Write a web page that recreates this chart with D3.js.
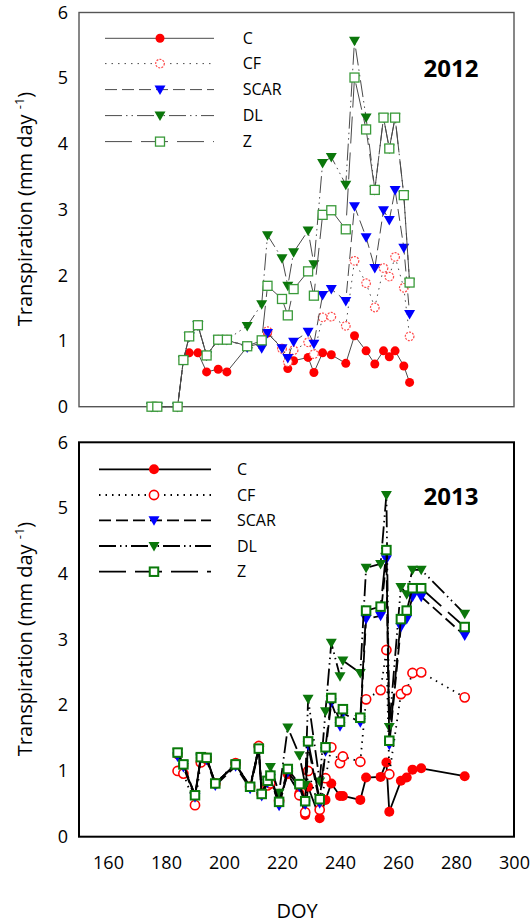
<!DOCTYPE html>
<html>
<head>
<meta charset="utf-8">
<script src="https://cdn.jsdelivr.net/npm/d3@7"></script>
<style>
  html, body { margin: 0; padding: 0; background: #fff; }
  svg { display: block; font-family: "Open Sans", "Noto Sans", sans-serif; }
</style>
</head>
<body>
<svg id="chart" width="532" height="923"></svg>
<script>
// Day of year of each measurement and transpiration (mm/day) per treatment
const doy2012  = [175,177,184,186,188,191,194,198,201,208,213,215,220,222,224,229,231,234,237,242,245,249,252,255,257,259,262,264];
const c2012    = [0,0,0,0.71,0.82,0.82,0.53,0.57,0.53,0.91,0.97,1.12,0.89,0.58,0.70,0.75,0.52,0.82,0.79,0.66,1.08,0.85,0.65,0.85,0.76,0.85,0.62,0.37];
const cf2012   = [0,0,0,0.71,1.07,1.24,0.78,1.02,1.02,0.92,0.95,1.15,0.88,0.68,0.86,0.98,0.80,1.36,1.37,1.23,2.22,1.88,1.51,2.11,1.98,2.28,1.81,1.07];
const scar2012 = [0,0,0,0.71,1.07,1.24,0.78,1.02,1.02,0.90,0.89,1.12,0.89,0.74,0.99,1.14,0.96,1.70,1.79,1.61,3.05,2.58,2.11,2.99,2.84,3.30,2.42,1.41];
const dl2012   = [0,0,0,0.71,1.07,1.24,0.78,1.02,1.02,1.23,1.56,2.61,2.26,1.84,2.35,2.68,2.17,3.71,3.80,3.38,5.57,4.40,3.30,4.40,3.93,4.40,3.22,1.89];
const z2012    = [0,0,0,0.71,1.07,1.24,0.78,1.02,1.02,0.92,1.01,1.84,1.64,1.39,1.79,2.06,1.69,2.92,2.99,2.70,5.01,4.22,3.30,4.40,3.93,4.40,3.22,1.89];

const doy2013  = [184,186,190,192,194,197,204,209,212,213,215,216,219,222,226,228,229,233,235,237,240,241,247,249,254,256,257,261,263,265,268,283];
const c2013    = [1.25,1.08,0.62,1.20,1.20,0.81,1.10,0.76,1.35,0.66,0.80,0.86,0.55,0.95,0.66,0.33,0.76,0.28,0.56,0.81,0.62,0.62,0.56,0.90,0.91,1.13,0.38,0.85,0.90,1.02,1.04,0.92];
const cf2013   = [1.00,0.96,0.48,1.13,1.18,0.81,1.12,0.76,1.38,0.65,0.78,0.81,0.55,1.00,0.63,0.37,1.00,0.41,0.89,1.36,1.12,1.22,1.14,2.09,2.23,2.84,0.95,2.17,2.23,2.49,2.50,2.12];
const scar2013 = [1.22,1.06,0.60,1.19,1.17,0.78,1.07,0.73,1.31,0.62,0.82,0.89,0.47,0.98,0.76,0.49,1.39,0.51,1.30,2.04,1.68,1.88,1.74,3.31,3.36,4.22,1.40,3.19,3.31,3.65,3.65,3.06];
const dl2013   = [1.28,1.10,0.63,1.21,1.20,0.81,1.10,0.76,1.34,0.65,0.86,1.06,0.67,1.66,1.24,0.79,2.10,0.84,1.91,2.95,2.44,2.68,2.49,4.09,4.15,5.20,1.67,3.80,3.69,4.06,4.06,3.39];
const z2013    = [1.28,1.10,0.63,1.21,1.20,0.81,1.10,0.76,1.34,0.65,0.85,0.93,0.53,1.03,0.80,0.54,1.45,0.57,1.36,2.11,1.75,1.94,1.81,3.44,3.50,4.36,1.46,3.31,3.44,3.78,3.78,3.19];

const treatments = ["C", "CF", "SCAR", "DL", "Z"];
const xTicks = [160, 180, 200, 220, 240, 260, 280, 300];
const yTicks = [0, 1, 2, 3, 4, 5, 6];

const svg = d3.select("#chart");
svg.append("rect").attr("width", 532).attr("height", 923).attr("fill", "#fff");

const x = d3.scaleLinear().domain([150, 300]).range([79, 514]);

// line dash and marker per treatment
const dash = { C: null, CF: "1.5,5", SCAR: "12,5", DL: "17,4,1.5,4,1.5,4", Z: "27,9" };

const panels = [
  { label: "2012", doy: doy2012, values: [c2012, cf2012, scar2012, dl2012, z2012],
    top: 12.5, bottom: 406.7, showX: false,
    lineColor: "#4a4a4a", lineWidth: 1, frameColor: "#555", frameWidth: 1.4,
    circleR: 4.5, cfR: 4.3, cfStroke: "#ff4d4d", cfWidth: 1.2, cfDash: "2,1.2",
    sq: 9, sqStroke: "#3a9a3a", sqWidth: 1.3, legendX0: 105, legendX1: 214, legendM: 160, legendT: 242.7,
    legendY: [38.3, 63.6, 89.6, 115.6, 141.6], titleY: 209, yearY: 77 },
  { label: "2013", doy: doy2013, values: [c2013, cf2013, scar2013, dl2013, z2013],
    top: 442.3, bottom: 836.7, showX: true,
    lineColor: "#000", lineWidth: 1.8, frameColor: "#000", frameWidth: 2,
    circleR: 5, cfR: 4.6, cfStroke: "#ff0000", cfWidth: 1.6, cfDash: null,
    sq: 8.5, sqStroke: "#0a7a0a", sqWidth: 2, legendX0: 99, legendX1: 211, legendM: 154, legendT: 237,
    legendY: [469.3, 495, 520.3, 546, 571.7], titleY: 639, yearY: 505 }
];

const triPath = "M-5.5,-4L5.5,-4L0,5.5Z";

function drawMarker(g, name, p, cx, cy) {
  if (name === "C") {
    g.append("circle").attr("cx", cx).attr("cy", cy).attr("r", p.circleR).attr("fill", "#ff0000");
  } else if (name === "CF") {
    g.append("circle").attr("cx", cx).attr("cy", cy).attr("r", p.cfR)
      .attr("fill", "#fff").attr("stroke", p.cfStroke).attr("stroke-width", p.cfWidth)
      .attr("stroke-dasharray", p.cfDash);
  } else if (name === "SCAR") {
    g.append("path").attr("d", triPath).attr("transform", `translate(${cx},${cy})`).attr("fill", "#0000ff");
  } else if (name === "DL") {
    g.append("path").attr("d", triPath).attr("transform", `translate(${cx},${cy})`).attr("fill", "#0b770b");
  } else {
    g.append("rect").attr("x", cx - p.sq / 2).attr("y", cy - p.sq / 2).attr("width", p.sq).attr("height", p.sq)
      .attr("fill", "#fff").attr("stroke", p.sqStroke).attr("stroke-width", p.sqWidth);
  }
}

panels.forEach(p => {
  const y = d3.scaleLinear().domain([0, 6]).range([p.bottom, p.top]);
  const g = svg.append("g");

  // frame
  g.append("rect").attr("x", x(150)).attr("y", y(6)).attr("width", x(300) - x(150)).attr("height", y(0) - y(6))
    .attr("fill", "none").attr("stroke", p.frameColor).attr("stroke-width", p.frameWidth);

  // y axis labels
  const ya = g.append("g").attr("transform", `translate(${x(150)},0)`)
    .call(d3.axisLeft(y).tickValues(yTicks).tickFormat(d3.format("d")).tickSize(0).tickPadding(11));
  ya.select(".domain").remove();
  ya.selectAll("text").attr("font-size", 18).attr("fill", "#000").attr("font-family", "Open Sans, sans-serif");

  if (p.showX) {
    const xa = g.append("g").attr("transform", `translate(0,${y(0)})`)
      .call(d3.axisBottom(x).tickValues(xTicks).tickSize(0).tickPadding(20));
    xa.select(".domain").remove();
    xa.selectAll("text").attr("font-size", 18).attr("fill", "#000").attr("font-family", "Open Sans, sans-serif");
  }

  // axis title
  const t = g.append("text").attr("transform", `translate(32,${p.titleY}) rotate(-90)`)
    .attr("text-anchor", "middle").attr("font-size", 20).attr("fill", "#000");
  t.append("tspan").text("Transpiration (mm day ");
  t.append("tspan").attr("font-size", 13).attr("dy", -8).text("-1");
  t.append("tspan").attr("dy", 8).text(")");

  // year label
  g.append("text").attr("x", 451).attr("y", p.yearY).attr("text-anchor", "middle")
    .attr("font-size", 24).attr("font-weight", "bold").attr("fill", "#000").text(p.label);

  // series
  const line = d3.line().x(d => x(d[0])).y(d => y(d[1]));
  treatments.forEach((name, i) => {
    const pts = p.doy.map((d, k) => [d, p.values[i][k]]);
    const sg = g.append("g").attr("class", "series-" + name);
    sg.append("path").datum(pts).attr("d", line).attr("fill", "none")
      .attr("stroke", p.lineColor).attr("stroke-width", p.lineWidth)
      .attr("stroke-dasharray", dash[name]);
    pts.forEach(d => drawMarker(sg, name, p, x(d[0]), y(d[1])));
  });

  // legend
  treatments.forEach((name, i) => {
    const ly = p.legendY[i];
    const lg = g.append("g");
    lg.append("line").attr("x1", p.legendX0).attr("x2", p.legendX1).attr("y1", ly).attr("y2", ly)
      .attr("stroke", p.lineColor).attr("stroke-width", p.lineWidth).attr("stroke-dasharray", dash[name]);
    drawMarker(lg, name, p, p.legendM, ly);
    lg.append("text").attr("x", p.legendT).attr("y", ly).attr("dy", "0.36em")
      .attr("font-size", 16).attr("fill", "#000").text(name);
  });
});

// shared x axis title
svg.append("text").attr("x", 297).attr("y", 918).attr("text-anchor", "middle")
  .attr("font-size", 20).attr("fill", "#000").text("DOY");
</script>
</body>
</html>
